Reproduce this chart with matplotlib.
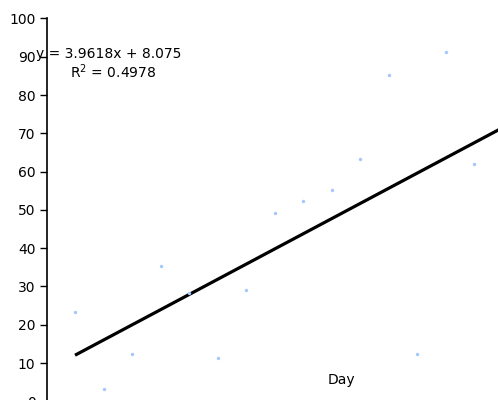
import numpy as np
import matplotlib.pyplot as plt

# ----------------------------- data ------------------------------------------
days   = [1, 2, 3, 4, 5, 6, 7, 8, 9, 10, 11, 12, 13, 14, 15]
values = [23.2, 3.2, 12.3, 35.3, 28.2, 11.2, 29.2, 49.3, 52.2, 55.1,
          63.2, 85.3, 12.3, 91.3, 62.1]

slope     = 3.9618
intercept = 8.075
r_squared = 0.4978
trend_end = 18          # trendline runs past the right edge

y_ticks = list(range(0, 101, 10))

# ----------------------------- figure ----------------------------------------
fig = plt.figure(figsize=(4.98, 4.0), dpi=100)
ax = fig.add_axes([46.5 / 498, -1.3 / 400, 1 - 46.5 / 498, 382.8 / 400])

ax.scatter(days, values, s=6, color='#a6c6ff', marker='o', linewidths=0, zorder=4)

xt = np.array([days[0], trend_end])
ax.plot(xt, slope * xt + intercept, color='black', linewidth=2.3,
        solid_capstyle='butt', zorder=3)

ax.set_xlim(0, (498 - 46.5) / 28.5)
ax.set_ylim(0, 100)
ax.set_yticks(y_ticks)
ax.set_xticks([])
ax.tick_params(axis='y', direction='out', length=5, width=1, pad=3,
               labelsize=10, colors='black')

for side in ('top', 'right', 'bottom'):
    ax.spines[side].set_visible(False)
ax.spines['left'].set_linewidth(1.2)
ax.spines['left'].set_color('black')
for lbl in ax.get_yticklabels():
    lbl.set_clip_on(False)

# trendline equation
fig.text(36 / 498, 1 - 54 / 400, f"y = {slope}x + {intercept}",
         fontsize=10, ha='left', va='center')
fig.text(70 / 498, 1 - 72 / 400, f"R$^2$ = {r_squared}",
         fontsize=10, ha='left', va='center')

fig.text(341 / 498, 1 - 380 / 400, "Day", fontsize=10, ha='center', va='center')

fig.savefig("out.png", dpi=100)
plt.close(fig)
